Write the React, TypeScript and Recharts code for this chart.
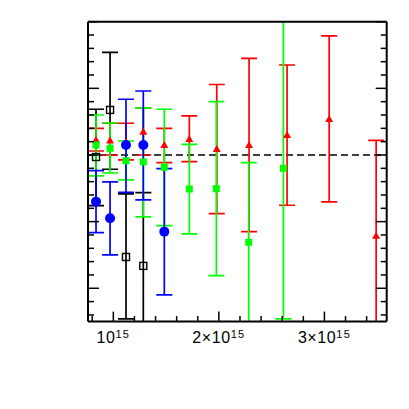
import React from "react";
import {
  ScatterChart,
  Scatter,
  XAxis,
  YAxis,
  ErrorBar,
  ReferenceLine,
} from "recharts";

// x in units of 1e15, y is the ratio (dashed line at 1)
const blackX = [0.836, 0.969, 1.12, 1.284];
const blackY = [0.985, 1.338, 0.235, 0.168];
const blackLo = [0.62, 0.893, -0.23, -0.6];
const blackHi = [1.343, 1.77, 0.708, 0.717];

const blueX = [0.836, 0.969, 1.12, 1.284, 1.483];
const blueY = [0.65, 0.525, 1.075, 1.075, 0.425];
const blueLo = [0.417, 0.25, 0.72, 0.663, -0.05];
const blueHi = [0.882, 0.798, 1.418, 1.48, 0.897];

const greenX = [0.836, 0.969, 1.12, 1.284, 1.483, 1.72, 1.976, 2.283, 2.611];
const greenY = [1.075, 1.05, 0.957, 0.948, 0.908, 0.745, 0.747, 0.345, 0.9];
const greenLo = [0.843, 0.865, 0.813, 0.535, 0.47, 0.408, 0.095, -0.6, -0.23];
const greenHi = [1.3, 1.24, 1.105, 1.353, 1.343, 1.08, 1.4, 0.942, 2.3];

const redX = [0.836, 0.969, 1.12, 1.284, 1.483, 1.72, 1.98, 2.286, 2.646, 3.045, 3.49];
const redY = [1.113, 1.109, 1.098, 1.175, 1.075, 1.12, 1.045, 1.075, 1.15, 1.27, 0.395];
const redLo = [1.03, 1.0, 0.963, 1.0, 0.942, 0.95, 0.56, 0.425, 0.623, 0.648, -0.6];
const redHi = [1.2, 1.238, 1.238, 1.353, 1.2, 1.293, 1.529, 1.725, 1.675, 1.893, 1.11];

const xTicks = [0.8, 1, 1.2, 1.4, 1.6, 1.8, 2, 2.2, 2.4, 2.6, 2.8, 3, 3.2, 3.4];
const xLabels: Record<number, string> = { 1: "", 2: "2×", 3: "3×" };
const yTicks = [
  -0.2, -0.1, 0, 0.1, 0.2, 0.3, 0.4, 0.5, 0.6, 0.7, 0.8, 0.9, 1, 1.1, 1.2, 1.3,
  1.4, 1.5, 1.6, 1.7, 1.8, 1.9, 2,
];

const W = 393;
const H = 393;
const plot = { left: 80, top: 13.7, right: 378.7, bottom: 313.6 };

const build = (xs: number[], ys: number[], lo: number[], hi: number[]) =>
  xs.map((x, i) => ({ x, y: ys[i], err: [ys[i] - lo[i], hi[i] - ys[i]] }));

const isMajor = (v: number, step: number) =>
  Math.abs(v / step - Math.round(v / step)) < 1e-6;

const BottomTick = (props: any) => {
  const { x, payload } = props;
  const y = plot.bottom;
  const major = isMajor(payload.value, 1);
  return (
    <g>
      <line x1={x} x2={x} y1={y} y2={y - (major ? 10 : 5.5)} stroke="#000" strokeWidth={1.5} />
      {major && (
        <text
          x={x}
          y={y + 21.5}
          textAnchor="middle"
          fontFamily="Liberation Sans, Arial, sans-serif"
          fontSize={16}
          letterSpacing={0.6}
          fill="#000"
        >
          <tspan>{xLabels[Math.round(payload.value)]}10</tspan>
          <tspan dy={-5.5} fontSize={11} letterSpacing={1.2}>
            15
          </tspan>
        </text>
      )}
    </g>
  );
};

const TopTick = (props: any) => {
  const { x, payload } = props;
  const y = plot.top;
  const major = isMajor(payload.value, 1);
  return <line x1={x} x2={x} y1={y} y2={y + (major ? 10 : 5.5)} stroke="#000" strokeWidth={1.5} />;
};

const LeftTick = (props: any) => {
  const { y, payload } = props;
  const x = plot.left;
  const major = isMajor(payload.value, 0.5);
  return <line x1={x} x2={x + (major ? 11 : 6)} y1={y} y2={y} stroke="#000" strokeWidth={1.5} />;
};

const RightTick = (props: any) => {
  const { y, payload } = props;
  const x = plot.right;
  const major = isMajor(payload.value, 0.5);
  return <line x1={x} x2={x - (major ? 11 : 6)} y1={y} y2={y} stroke="#000" strokeWidth={1.5} />;
};

const OpenSquare = (props: any) => (
  <rect x={props.cx - 3.5} y={props.cy - 3.5} width={7} height={7} fill="none" stroke="#000" strokeWidth={1.4} />
);
const Dot = (props: any) => <circle cx={props.cx} cy={props.cy} r={5} fill="#0000ff" />;
const FilledSquare = (props: any) => (
  <rect x={props.cx - 3.5} y={props.cy - 3.5} width={7} height={7} fill="#00ff00" />
);
const Triangle = (props: any) => (
  <polygon
    points={`${props.cx - 4},${props.cy + 3} ${props.cx + 4},${props.cy + 3} ${props.cx},${props.cy - 4}`}
    fill="#ff0000"
  />
);

const App = () => {
  const axisLine = { stroke: "#000", strokeWidth: 2 };
  return (
    <div style={{ position: "relative", width: W, height: H }}>
      <svg width={0} height={0} style={{ position: "absolute" }}>
        <defs>
          <clipPath id="plotClip" clipPathUnits="userSpaceOnUse">
            <rect
              x={plot.left}
              y={plot.top}
              width={plot.right - plot.left}
              height={plot.bottom - plot.top}
            />
          </clipPath>
        </defs>
      </svg>
      <style>{`.recharts-scatter, .recharts-errorBars { clip-path: url(#plotClip); }`}</style>
      <ScatterChart
        width={W}
        height={H}
        margin={{ top: plot.top - 2, left: plot.left - 2, right: W - plot.right - 2, bottom: H - plot.bottom - 30 }}
      >
        <XAxis
          type="number"
          dataKey="x"
          domain={[0.76, 3.59]}
          allowDataOverflow
          ticks={xTicks}
          interval={0}
          height={30}
          tickSize={0}
          tickMargin={0}
          tickLine={false}
          axisLine={axisLine}
          tick={<BottomTick />}
        />
        <XAxis
          xAxisId="top"
          orientation="top"
          type="number"
          domain={[0.76, 3.59]}
          allowDataOverflow
          ticks={xTicks}
          interval={0}
          height={2}
          tickSize={0}
          tickMargin={0}
          tickLine={false}
          axisLine={axisLine}
          tick={<TopTick />}
        />
        <YAxis
          type="number"
          dataKey="y"
          domain={[-0.25, 2]}
          allowDataOverflow
          ticks={yTicks}
          interval={0}
          width={2}
          tickSize={0}
          tickMargin={0}
          tickLine={false}
          axisLine={axisLine}
          tick={<LeftTick />}
        />
        <YAxis
          yAxisId="right"
          orientation="right"
          type="number"
          domain={[-0.25, 2]}
          allowDataOverflow
          ticks={yTicks}
          interval={0}
          width={2}
          tickSize={0}
          tickMargin={0}
          tickLine={false}
          axisLine={axisLine}
          tick={<RightTick />}
        />
        <ReferenceLine y={1} stroke="#000" strokeWidth={1.5} strokeDasharray="7 4" />
        <Scatter data={build(blackX, blackY, blackLo, blackHi)} shape={<OpenSquare />} isAnimationActive={false}>
          <ErrorBar dataKey="err" direction="y" width={8} stroke="#000" strokeWidth={1.7} isAnimationActive={false} />
        </Scatter>
        <Scatter data={build(redX, redY, redLo, redHi)} shape={<Triangle />} isAnimationActive={false}>
          <ErrorBar dataKey="err" direction="y" width={8} stroke="#ff0000" strokeWidth={1.7} isAnimationActive={false} />
        </Scatter>
        <Scatter data={build(greenX, greenY, greenLo, greenHi)} shape={<FilledSquare />} isAnimationActive={false}>
          <ErrorBar dataKey="err" direction="y" width={8} stroke="#00ff00" strokeWidth={1.7} isAnimationActive={false} />
        </Scatter>
        <Scatter data={build(blueX, blueY, blueLo, blueHi)} shape={<Dot />} isAnimationActive={false}>
          <ErrorBar dataKey="err" direction="y" width={8} stroke="#0000ff" strokeWidth={1.7} isAnimationActive={false} />
        </Scatter>
      </ScatterChart>
    </div>
  );
};

export default App;
